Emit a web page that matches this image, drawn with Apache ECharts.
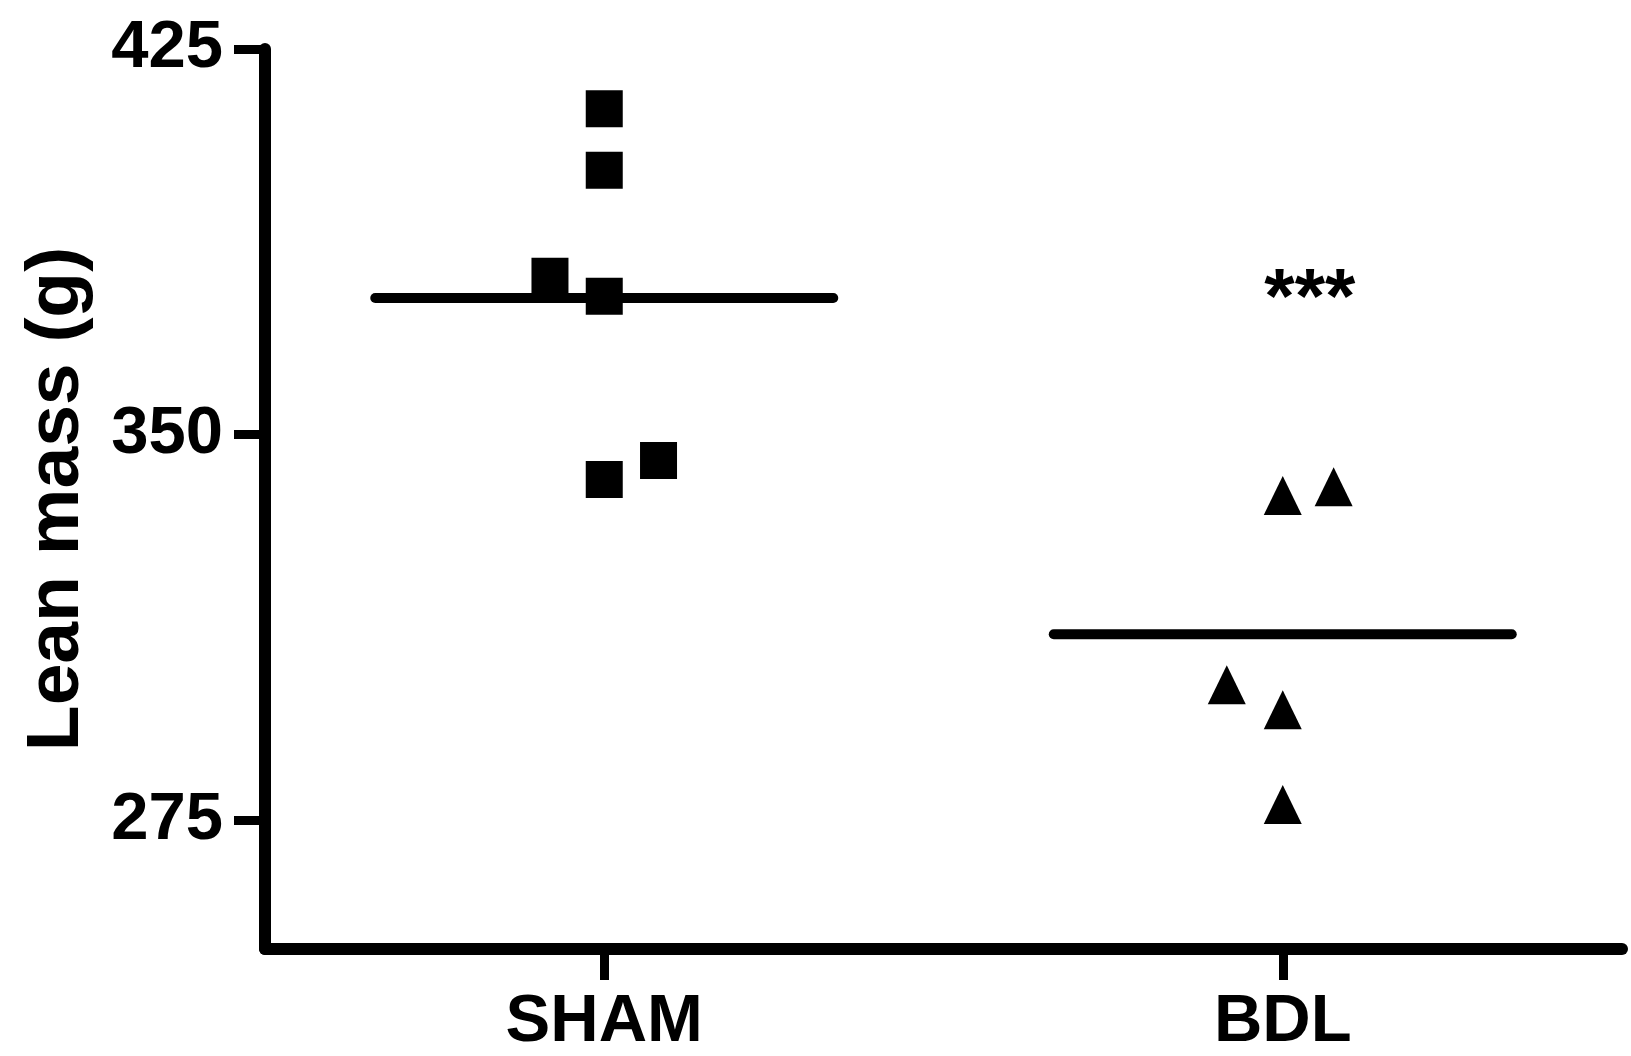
<!DOCTYPE html>
<html>
<head>
<meta charset="utf-8">
<script src="https://cdn.jsdelivr.net/npm/echarts@6/dist/echarts.min.js"></script>
<style>
html,body{margin:0;padding:0;background:#fff;}
#c{width:1631px;height:1056px;}
</style>
</head>
<body>
<div id="c"></div>
<script>
// Data
var groups = ['SHAM', 'BDL'];
var groupPos = [1, 3];
var shamX = [1, 1, 0.84, 1, 1, 1.16];
var shamY = [413.4, 401.4, 380.8, 376.9, 341.3, 345.0];
var bdlX = [3, 3.15, 2.835, 3, 3];
var bdlY = [338.2, 339.9, 301.4, 296.5, 278.1];
var groupMeans = [376.6, 311.2];
var meanHalfWidth = 0.675;
var yTicks = [275, 350, 425];
var sigLabel = '***';
var sigPoint = [3.08, 376.0];

var FONT = '"Liberation Sans", Arial, sans-serif';

function pairs(xs, ys){ return xs.map(function(x,i){ return [x, ys[i]]; }); }

var meanSeries = groupPos.map(function(p, i){
  return {
    type: 'line',
    data: [[p - meanHalfWidth, groupMeans[i]], [p + meanHalfWidth, groupMeans[i]]],
    symbol: 'none',
    lineStyle: {color: '#000', width: 10, cap: 'round'},
    z: 1,
    silent: true
  };
});

var chart = echarts.init(document.getElementById('c'), null, {renderer: 'canvas'});
chart.setOption({
  animation: false,
  backgroundColor: '#fff',
  grid: {left: 265, right: 9, top: 49, bottom: 103, containLabel: false},
  xAxis: {
    type: 'value',
    min: 0, max: 4,
    axisLine: {show: true, onZero: false, lineStyle: {color: '#000', width: 12, cap: 'round'}},
    axisTick: {show: true, customValues: groupPos, length: 31, lineStyle: {color: '#000', width: 9}},
    axisLabel: {
      show: true, customValues: groupPos, margin: 40,
      formatter: function(v){ var i = groupPos.indexOf(v); return i >= 0 ? groups[i] : ''; },
      color: '#000', fontFamily: FONT, fontWeight: 'bold', fontSize: 67
    },
    splitLine: {show: false}
  },
  yAxis: {
    type: 'value',
    min: 250, max: 425,
    name: 'Lean mass (g)',
    nameLocation: 'middle',
    nameGap: 170,
    nameTextStyle: {color: '#000', fontFamily: FONT, fontWeight: 'bold', fontSize: 75},
    axisLine: {show: true, onZero: false, lineStyle: {color: '#000', width: 12, cap: 'round'}},
    axisTick: {show: true, customValues: yTicks, length: 31, lineStyle: {color: '#000', width: 9}},
    axisLabel: {
      show: true, customValues: yTicks, margin: 42,
      color: '#000', fontFamily: FONT, fontWeight: 'bold', fontSize: 67
    },
    splitLine: {show: false}
  },
  series: meanSeries.concat([
    {
      type: 'scatter',
      data: pairs(shamX, shamY),
      symbol: 'rect',
      symbolSize: 37,
      itemStyle: {color: '#000', opacity: 1},
      z: 3
    },
    {
      type: 'scatter',
      data: pairs(bdlX, bdlY),
      symbol: 'triangle',
      symbolSize: [38, 39],
      itemStyle: {color: '#000', opacity: 1},
      z: 3
    },
    {
      type: 'scatter',
      data: [sigPoint],
      symbolSize: 0,
      itemStyle: {opacity: 1},
      label: {
        show: true, position: 'inside', formatter: sigLabel,
        color: '#000', fontFamily: FONT, fontWeight: 'bold', fontSize: 78
      },
      z: 4
    }
  ])
});
</script>
</body>
</html>
